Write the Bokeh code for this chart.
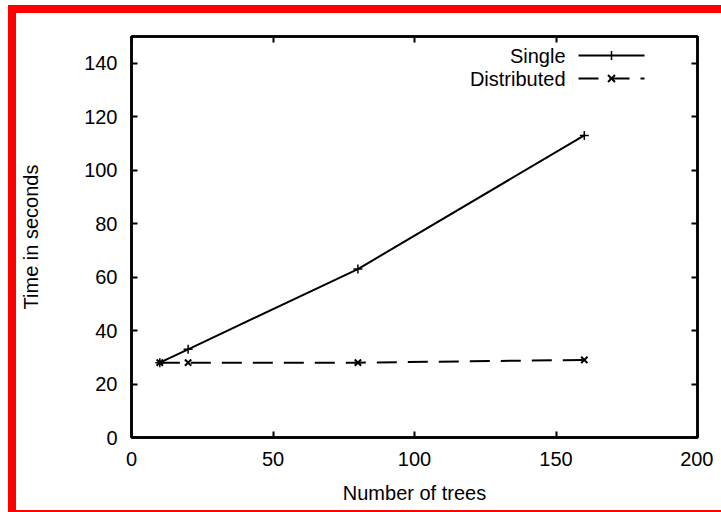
from bokeh.plotting import figure
from bokeh.layouts import column, row
from bokeh.models import Range1d, LinearAxis, FixedTicker, Label, Arrow, Spacer
from bokeh.embed import file_html
from bokeh.resources import INLINE

# Run times for building a forest, one machine vs. a cluster
trees = [10, 20, 80, 160]
single = [28, 33, 63, 113]
distributed = [28, 28, 28, 29]

x_ticks = [0, 50, 100, 150, 200]
y_ticks = [0, 20, 40, 60, 80, 100, 120, 140]

series_names = ["Single", "Distributed"]

FONT = "Liberation Sans"
RED = {"background-color": "#ff0000"}

p = figure(
    width=697, height=497,
    x_range=Range1d(0, 200), y_range=Range1d(0, 150),
    output_backend="svg", toolbar_location=None,
    min_border_left=115, min_border_right=16,
    min_border_top=23, min_border_bottom=73,
    x_axis_label="Number of trees", y_axis_label="Time in seconds",
)

p.grid.visible = False
p.outline_line_color = "black"
p.outline_line_width = 2.5
p.background_fill_color = "white"
p.border_fill_color = "white"


def style_axis(ax, show_labels=True):
    ax.axis_line_width = 2.5
    ax.axis_line_color = "black"
    ax.major_tick_in = 6
    ax.major_tick_out = 0
    ax.major_tick_line_width = 2
    ax.minor_tick_line_color = None
    ax.major_label_text_font = FONT
    ax.major_label_text_font_size = "20px"
    ax.major_label_text_color = "black"
    ax.major_label_standoff = 14
    ax.axis_label_text_font = FONT
    ax.axis_label_text_font_size = "20px"
    ax.axis_label_text_font_style = "normal"
    ax.axis_label_text_color = "black"
    if not show_labels:
        ax.major_label_overrides = {t: "" for t in ax.ticker.ticks}
        ax.major_label_standoff = 0


p.xaxis.ticker = FixedTicker(ticks=x_ticks)
p.yaxis.ticker = FixedTicker(ticks=y_ticks)
style_axis(p.xaxis[0])
style_axis(p.yaxis[0])
p.xaxis.axis_label_standoff = 13
p.yaxis.axis_label_standoff = 39

# mirrored tick marks on the top and right sides
top = LinearAxis(ticker=FixedTicker(ticks=x_ticks))
right = LinearAxis(ticker=FixedTicker(ticks=y_ticks))
style_axis(top, False)
style_axis(right, False)
p.add_layout(top, "above")
p.add_layout(right, "right")
p.min_border_top = 23
p.min_border_right = 16

p.line(trees, single, line_color="black", line_width=2)
p.scatter(trees, single, marker="cross", size=9,
          line_color="black", line_width=1.5)
p.line(trees, distributed, line_color="black", line_width=2,
       line_dash="20 11")
p.scatter(trees, distributed, marker="x", size=9,
          line_color="black", line_width=2)

# key in the top right corner: label first, then a sample of the line
# (screen units, measured from the frame's bottom-left corner)
key_rows = [(382, None), (359, "20 11")]
for name, (ky, dash) in zip(series_names, key_rows):
    p.add_layout(Label(
        x=434, y=ky, x_units="screen", y_units="screen", text=name,
        text_align="right", text_baseline="middle",
        text_font=FONT, text_font_size="20px", text_color="black",
    ))
    p.add_layout(Arrow(
        start=None, end=None,
        x_start=447, y_start=ky, x_end=513, y_end=ky,
        start_units="screen", end_units="screen",
        line_color="black", line_width=2,
        line_dash=dash if dash else "solid",
    ))

# key markers: "+" for the single machine, "x" for the cluster
mx = 480
p.add_layout(Arrow(start=None, end=None, x_start=mx, y_start=382 - 4.5,
                   x_end=mx, y_end=382 + 4.5, start_units="screen",
                   end_units="screen", line_color="black", line_width=1.5))
for dx in (-3.5, 3.5):
    p.add_layout(Arrow(start=None, end=None, x_start=mx - dx, y_start=359 - 3.5,
                       x_end=mx + dx, y_end=359 + 3.5, start_units="screen",
                       end_units="screen", line_color="black", line_width=2))

# red frame on the left, top and bottom of the chart, built from spacers
framed = column(
    Spacer(width=713, height=8, styles=RED),
    row(Spacer(width=8, height=497, styles=RED), p, spacing=0),
    Spacer(width=713, height=2, styles=RED),
    spacing=0,
)
page = column(
    Spacer(width=713, height=5),
    row(Spacer(width=8, height=507), framed, spacing=0),
    spacing=0,
)

open("out.html", "w").write(file_html(page, INLINE))
